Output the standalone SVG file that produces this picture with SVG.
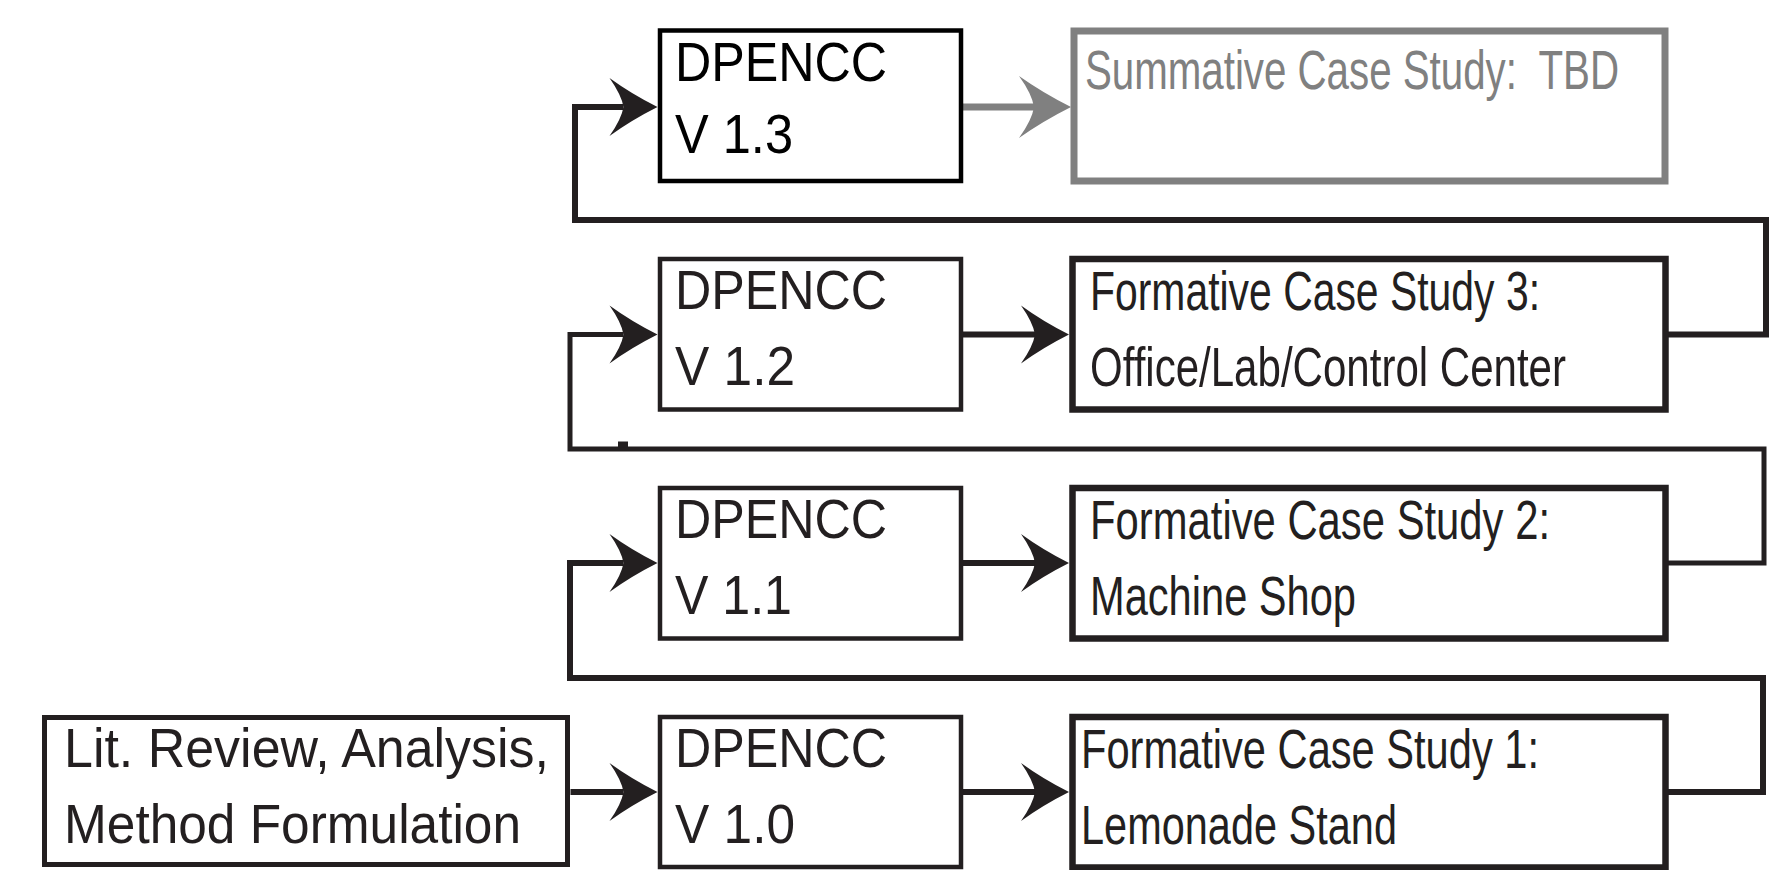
<svg xmlns="http://www.w3.org/2000/svg" width="1769" height="870" viewBox="0 0 1769 870">
  <defs>
    <style>
      .box { fill: #ffffff; stroke: #231f20; }
      .dp { stroke-width: 4.5; }
      .cs { stroke-width: 6.5; }
      .lit { stroke-width: 5; }
      .todo { fill: #ffffff; stroke: #808080; stroke-width: 7; }
      .t { font-family: "Liberation Sans", Arial, Helvetica, sans-serif; font-size: 55px; fill: #231f20; }
      .tg { fill: #808080; }
      .link { fill: none; stroke: #231f20; stroke-width: 6; stroke-linejoin: miter; stroke-linecap: butt; }
      .link-grey { fill: none; stroke: #808080; stroke-width: 7; }
    </style>
    <!-- swept arrowhead; reference point sits on the notch so the line tucks into it -->
    <marker id="arrow" markerUnits="userSpaceOnUse" viewBox="-52 -32 54 64" markerWidth="54" markerHeight="64" refX="-34" refY="0" orient="auto">
      <path d="M0,0 Q-26,-13 -48,-29 Q-36,-12 -34,0 Q-36,12 -48,29 Q-26,13 0,0 Z" fill="#231f20"/>
    </marker>
    <marker id="arrow-grey" markerUnits="userSpaceOnUse" viewBox="-56 -35 58 70" markerWidth="58" markerHeight="70" refX="-37" refY="0" orient="auto">
      <path d="M0,0 Q-28,-14 -52,-31 Q-39,-13 -37,0 Q-39,13 -52,31 Q-28,14 0,0 Z" fill="#808080"/>
    </marker>
  </defs>

  <!-- connectors -->
  <g id="connectors">
    <path class="link" d="M570.5,792 H623.5" marker-end="url(#arrow)"/>
    <path class="link" d="M963,792 H1035" marker-end="url(#arrow)"/>
    <path class="link" d="M963,563 H1035" marker-end="url(#arrow)"/>
    <path class="link" d="M963,334.5 H1035" marker-end="url(#arrow)"/>
    <path class="link-grey" d="M963,107 H1034" marker-end="url(#arrow-grey)"/>
    <!-- feedback loops from each case study back to the next method version -->
    <path class="link" d="M1668,792 H1763 V678 H570 V563 H623.5" marker-end="url(#arrow)"/>
    <path class="link" style="stroke-width:5" d="M1668,563 H1764 V449 H570 V334.5 H623.5" marker-end="url(#arrow)"/>
    <rect x="618" y="441.5" width="10" height="6" fill="#231f20"/>
    <path class="link" d="M1668,334.5 H1766 V220 H575 V107 H623.5" marker-end="url(#arrow)"/>
  </g>

  <g id="lit-review">
    <rect class="box lit" x="44.5" y="717.5" width="523" height="147"/>
    <text class="t" x="64" y="767" textLength="485" lengthAdjust="spacingAndGlyphs">Lit. Review, Analysis,</text>
    <text class="t" x="64" y="843" textLength="457" lengthAdjust="spacingAndGlyphs">Method Formulation</text>
  </g>

  <g id="dpencc-v10">
    <rect class="box dp" x="660" y="717" width="301" height="150"/>
    <text class="t" x="675" y="767" textLength="212" lengthAdjust="spacingAndGlyphs">DPENCC</text>
    <text class="t" x="675" y="843" textLength="120" lengthAdjust="spacingAndGlyphs">V 1.0</text>
  </g>

  <g id="case-study-1">
    <rect class="box cs" x="1072.5" y="717" width="593" height="150.5"/>
    <text class="t" x="1081" y="768" textLength="458" lengthAdjust="spacingAndGlyphs">Formative Case Study 1:</text>
    <text class="t" x="1081" y="844" textLength="316" lengthAdjust="spacingAndGlyphs">Lemonade Stand</text>
  </g>

  <g id="dpencc-v11">
    <rect class="box dp" x="660" y="488" width="301" height="150.5"/>
    <text class="t" x="675" y="538" textLength="212" lengthAdjust="spacingAndGlyphs">DPENCC</text>
    <text class="t" x="675" y="614" textLength="117" lengthAdjust="spacingAndGlyphs">V 1.1</text>
  </g>

  <g id="case-study-2">
    <rect class="box cs" x="1072.5" y="488" width="593" height="150.5"/>
    <text class="t" x="1090" y="539" textLength="460" lengthAdjust="spacingAndGlyphs">Formative Case Study 2:</text>
    <text class="t" x="1090" y="615" textLength="266" lengthAdjust="spacingAndGlyphs">Machine Shop</text>
  </g>

  <g id="dpencc-v12">
    <rect class="box dp" x="660" y="259" width="301" height="150.5"/>
    <text class="t" x="675" y="309" textLength="212" lengthAdjust="spacingAndGlyphs">DPENCC</text>
    <text class="t" x="675" y="385" textLength="120" lengthAdjust="spacingAndGlyphs">V 1.2</text>
  </g>

  <g id="case-study-3">
    <rect class="box cs" x="1072.5" y="259" width="593" height="150.5"/>
    <text class="t" x="1090" y="310" textLength="450" lengthAdjust="spacingAndGlyphs">Formative Case Study 3:</text>
    <text class="t" x="1090" y="386" textLength="476" lengthAdjust="spacingAndGlyphs">Office/Lab/Control Center</text>
  </g>

  <g id="dpencc-v13">
    <rect class="box dp" x="660" y="30.5" width="301" height="150.5" style="stroke:#000"/>
    <text class="t" x="675" y="81" textLength="212" lengthAdjust="spacingAndGlyphs" style="fill:#000">DPENCC</text>
    <text class="t" x="675" y="152.5" textLength="118" lengthAdjust="spacingAndGlyphs" style="fill:#000">V 1.3</text>
  </g>

  <g id="summative-case-study">
    <rect class="todo" x="1074" y="31" width="591" height="150"/>
    <text class="t tg" x="1085" y="89" textLength="534" lengthAdjust="spacingAndGlyphs">Summative Case Study:&#160; TBD</text>
  </g>
</svg>
